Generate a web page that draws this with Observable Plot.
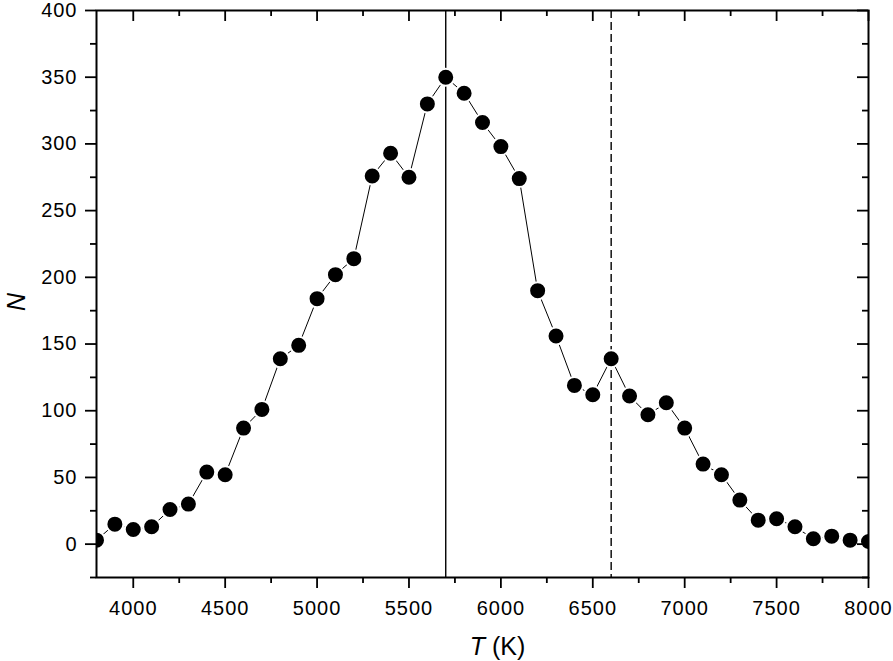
<!DOCTYPE html>
<html><head><meta charset="utf-8">
<script src="https://cdn.jsdelivr.net/npm/d3@7"></script>
<script src="https://cdn.jsdelivr.net/npm/@observablehq/plot@0.6"></script>
<style>
body{margin:0;background:#fff;}
#chart svg{display:block;}
#chart g[aria-label="x-axis tick label"] text,
#chart g[aria-label="y-axis tick label"] text{letter-spacing:1px;}
</style></head><body><div id="chart"></div>
<script>
const temperatures = [3800,3900,4000,4100,4200,4300,4400,4500,4600,4700,4800,4900,5000,5100,5200,5300,5400,5500,5600,5700,5800,5900,6000,6100,6200,6300,6400,6500,6600,6700,6800,6900,7000,7100,7200,7300,7400,7500,7600,7700,7800,7900,8000];
const counts = [3,15,11,13,26,30,54,52,87,101,139,149,184,202,214,276,293,275,330,350,338,316,298,274,190,156,119,112,139,111,97,106,87,60,52,33,18,19,13,4,6,3,2];
const xMajorTicks = [4000,4500,5000,5500,6000,6500,7000,7500,8000];
const xMinorTicks = [4250,4750,5250,5750,6250,6750,7250,7750];
const yMajorTicks = [0,50,100,150,200,250,300,350,400];
const yMinorTicks = [-25,25,75,125,175,225,275,325,375];
const solidLine = [5700];
const dashedLine = [6600];
const xLabel = "T (K)";
const yLabel = "N";

const data = temperatures.map((t, i) => ({t, n: counts[i]}));

const W = 893, H = 661, ML = 96, MR = 25, MT = 10, MB = 84;
const FW = W - ML - MR, FH = H - MT - MB;
const MAJ = 11, MIN = 6, TW = 1.8;

const chart = Plot.plot({
  width: W,
  height: H,
  marginLeft: ML,
  marginRight: MR,
  marginTop: MT,
  marginBottom: MB,
  style: {fontFamily: "'Liberation Sans', Arial, sans-serif", fontSize: "20px", color: "black", background: "white"},
  x: {domain: [3800, 8000]},
  y: {domain: [-25, 400]},
  marks: [
    Plot.ruleX(solidLine, {stroke: "black", strokeWidth: 1.4}),
    Plot.ruleX(dashedLine, {stroke: "black", strokeWidth: 1.4, strokeDasharray: "8,4"}),
    Plot.line(data, {x: "t", y: "n", stroke: "black", strokeWidth: 1, clip: true}),
    Plot.dot(data, {x: "t", y: "n", r: 8.5, fill: "black", stroke: "white", strokeWidth: 2, clip: true}),
    // bottom ticks (outward)
    Plot.tickX(xMajorTicks, {x: d => d, insetTop: FH - MAJ, dy: MAJ, stroke: "black", strokeWidth: TW}),
    Plot.tickX(xMinorTicks, {x: d => d, insetTop: FH - MIN, dy: MIN, stroke: "black", strokeWidth: TW}),
    // top ticks (inward)
    Plot.tickX(xMajorTicks, {x: d => d, insetBottom: FH - MAJ, stroke: "black", strokeWidth: TW}),
    Plot.tickX(xMinorTicks, {x: d => d, insetBottom: FH - MIN, stroke: "black", strokeWidth: TW}),
    // left ticks (outward)
    Plot.tickY(yMajorTicks, {y: d => d, insetRight: FW - MAJ, dx: -MAJ, stroke: "black", strokeWidth: TW}),
    Plot.tickY(yMinorTicks, {y: d => d, insetRight: FW - MIN, dx: -MIN, stroke: "black", strokeWidth: TW}),
    // right ticks (inward)
    Plot.tickY(yMajorTicks, {y: d => d, insetLeft: FW - MAJ, stroke: "black", strokeWidth: TW}),
    Plot.tickY(yMinorTicks, {y: d => d, insetLeft: FW - MIN, stroke: "black", strokeWidth: TW}),
    // tick labels
    Plot.axisX({anchor: "bottom", ticks: xMajorTicks, tickSize: 0, tickPadding: 23, tickFormat: d => String(d), label: null}),
    Plot.axisY({anchor: "left", ticks: yMajorTicks, tickSize: 0, tickPadding: 19, tickFormat: d => String(d), label: null}),
    // axis titles
    Plot.text([xLabel], {text: d => d, frameAnchor: "bottom", dx: 15, dy: 77, fontSize: 25}),
    Plot.text([yLabel], {text: d => d, frameAnchor: "left", dx: -80, dy: 17, rotate: -90, fontSize: 25, fontStyle: "italic"}),
    Plot.frame({stroke: "black", strokeWidth: 2})
  ]
});

d3.select(chart).selectAll("text").filter(function() { return this.textContent === xLabel; }).each(function() {
  const t = d3.select(this);
  t.text(null);
  t.append("tspan").attr("font-style", "italic").text("T");
  t.append("tspan").text(" (K)");
});

document.getElementById("chart").appendChild(chart);
</script>
</body></html>
